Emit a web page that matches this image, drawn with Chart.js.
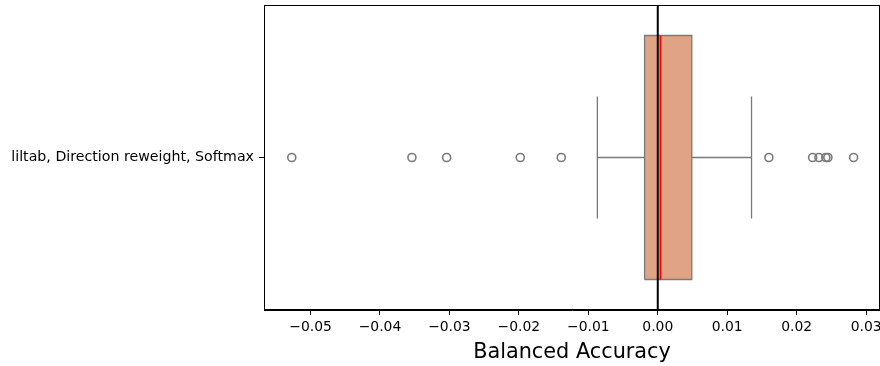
<!DOCTYPE html>
<html>
<head>
<meta charset="utf-8">
<script src="https://cdn.jsdelivr.net/npm/chart.js@4"></script>
<style>
  body { margin: 0; background: #fff; }
  #wrap { width: 880px; height: 366px; }
</style>
</head>
<body>
<div id="wrap"><canvas id="chart1" width="880" height="366"></canvas></div>
<script>
// Box plot values
var categories = ['liltab, Direction reweight, Softmax'];
var whiskerLow = [-0.0087];
var q1 = [-0.0019];
var median = [0.0004];
var q3 = [0.0049];
var whiskerHigh = [0.0135];
var outliers = [[-0.0527, -0.0354, -0.0304, -0.0198, -0.0139, 0.0160, 0.0223, 0.0232, 0.0242, 0.0245, 0.0282]];
var xTicks = [-0.05, -0.04, -0.03, -0.02, -0.01, 0.00, 0.01, 0.02, 0.03];

// box is 0.8 of the category slot, caps are half the box
var boxHalf = 0.4;
var capHalf = 0.2;
var boxColor = 'rgb(225,163,134)';
var lineGray = 'rgb(122,122,122)';

// Plugin to draw the full frame like matplotlib
var framePlugin = {
    id: 'frame',
    afterDraw: function(chart) {
        var a = chart.chartArea;
        var c = chart.ctx;
        c.save();
        c.strokeStyle = '#000';
        c.lineWidth = 1;
        c.strokeRect(a.left + 0.5, a.top + 0.5, a.right - a.left - 1, a.bottom - a.top - 1);
        c.restore();
    }
};

function fmtTick(v) {
    var s = Math.abs(v).toFixed(2);
    return (v < -1e-9 ? '\u2212' : '') + s;
}

var datasets = [];
var i = 0;

// zero reference line
datasets.push({
    type: 'line',
    data: [{x: 0, y: -0.5}, {x: 0, y: 0.5}],
    borderColor: '#000', borderWidth: 2, pointRadius: 0, fill: false
});
// median
datasets.push({
    type: 'line',
    data: [{x: median[i], y: -boxHalf}, {x: median[i], y: boxHalf}],
    borderColor: '#ff0000', borderWidth: 1.8, pointRadius: 0, fill: false
});
// outliers
datasets.push({
    type: 'scatter',
    data: outliers[i].map(function(v) { return {x: v, y: 0}; }),
    pointRadius: 4, pointBorderWidth: 1.6,
    pointBackgroundColor: 'rgba(0,0,0,0)', pointBorderColor: lineGray
});
// whiskers
datasets.push({
    type: 'line',
    data: [{x: whiskerLow[i], y: 0}, {x: q1[i], y: 0}],
    borderColor: lineGray, borderWidth: 1.3, pointRadius: 0, fill: false
});
datasets.push({
    type: 'line',
    data: [{x: q3[i], y: 0}, {x: whiskerHigh[i], y: 0}],
    borderColor: lineGray, borderWidth: 1.3, pointRadius: 0, fill: false
});
// caps
datasets.push({
    type: 'line',
    data: [{x: whiskerLow[i], y: -capHalf}, {x: whiskerLow[i], y: capHalf}],
    borderColor: lineGray, borderWidth: 1.3, pointRadius: 0, fill: false
});
datasets.push({
    type: 'line',
    data: [{x: whiskerHigh[i], y: -capHalf}, {x: whiskerHigh[i], y: capHalf}],
    borderColor: lineGray, borderWidth: 1.3, pointRadius: 0, fill: false
});
// box
datasets.push({
    type: 'line',
    data: [
        {x: q1[i], y: -boxHalf}, {x: q3[i], y: -boxHalf},
        {x: q3[i], y: boxHalf}, {x: q1[i], y: boxHalf}, {x: q1[i], y: -boxHalf}
    ],
    borderColor: lineGray, borderWidth: 1.3, pointRadius: 0,
    backgroundColor: boxColor, fill: 'shape', tension: 0
});

document.addEventListener('DOMContentLoaded', function() {
    var ctx = document.getElementById('chart1').getContext('2d');
    new Chart(ctx, {
        type: 'scatter',
        data: { datasets: datasets },
        options: {
            responsive: false,
            animation: false,
            events: [],
            layout: { autoPadding: false, padding: { top: 5, right: 0, left: 0, bottom: 0 } },
            plugins: { legend: { display: false }, tooltip: { enabled: false } },
            scales: {
                x: {
                    type: 'linear',
                    min: -0.0567,
                    max: 0.0320,
                    afterBuildTicks: function(scale) {
                        scale.ticks = xTicks.map(function(v) { return {value: v}; });
                    },
                    afterFit: function(scale) {
                        scale.height = 56;
                        scale.paddingLeft = 0;
                        scale.paddingRight = 0;
                    },
                    grid: { drawOnChartArea: false, drawTicks: true, tickLength: 5, color: '#000' },
                    border: { display: true, color: '#000', width: 1 },
                    ticks: {
                        color: '#000',
                        font: { family: 'DejaVu Sans', size: 13.9 },
                        padding: 4,
                        maxRotation: 0,
                        autoSkip: false,
                        callback: function(v) { return fmtTick(v); }
                    },
                    title: {
                        display: true,
                        text: 'Balanced Accuracy',
                        color: '#000',
                        font: { family: 'DejaVu Sans', size: 20.8 },
                        padding: { top: 0, bottom: 1 }
                    }
                },
                y: {
                    type: 'linear',
                    min: -0.5,
                    max: 0.5,
                    afterBuildTicks: function(scale) {
                        scale.ticks = categories.map(function(c, k) { return {value: k}; });
                    },
                    afterFit: function(scale) {
                        scale.width = 264;
                        scale.paddingTop = 0;
                        scale.paddingBottom = 0;
                    },
                    grid: { drawOnChartArea: false, drawTicks: true, tickLength: 5, color: '#000' },
                    border: { display: true, color: '#000', width: 1 },
                    ticks: {
                        color: '#000',
                        font: { family: 'DejaVu Sans', size: 14.2 },
                        padding: 5,
                        autoSkip: false,
                        callback: function(v) { return categories[Math.round(v)]; }
                    }
                }
            }
        },
        plugins: [framePlugin]
    });
});
</script>
</body>
</html>
